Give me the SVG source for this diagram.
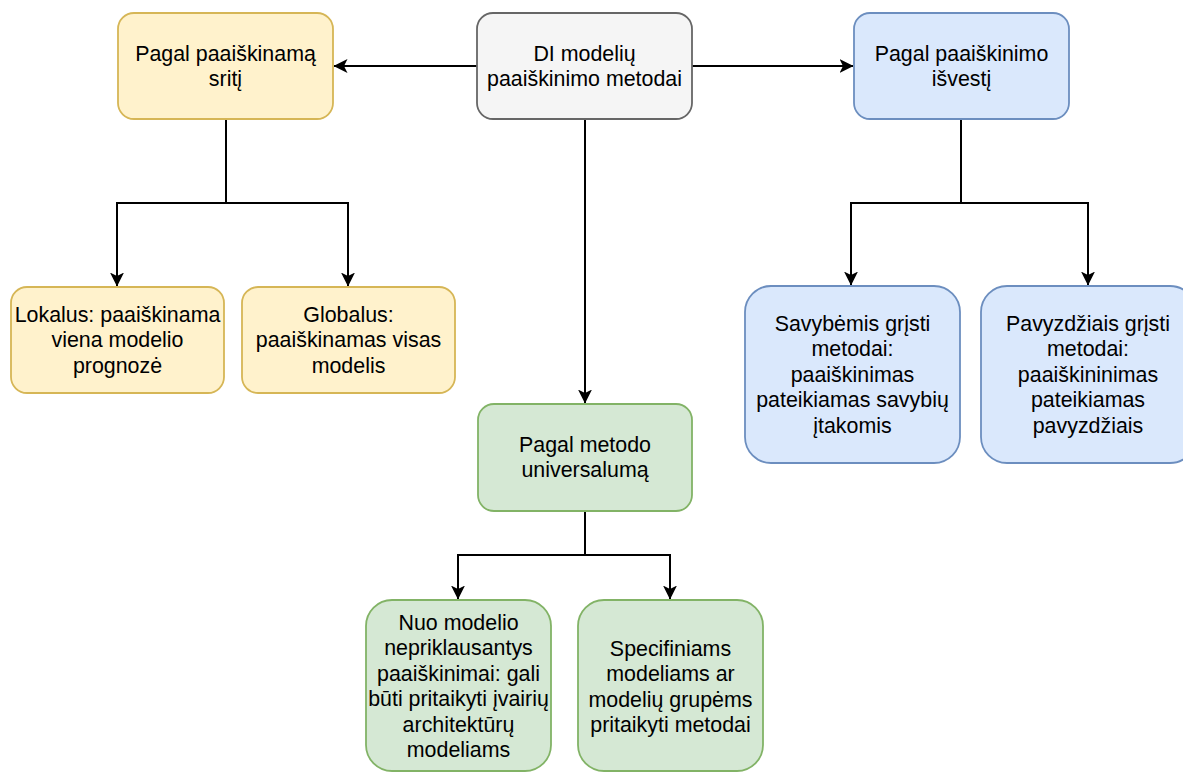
<svg xmlns="http://www.w3.org/2000/svg" width="1183" height="772" viewBox="0 0 1183 772">
<style>
text{font-family:"Liberation Sans",Arial,Helvetica,sans-serif;font-size:21.4px;fill:#000;text-anchor:middle}
.y{fill:#fff2cc;stroke:#d6b656;stroke-width:1.8}
.b{fill:#dae8fc;stroke:#6c8ebf;stroke-width:1.8}
.g{fill:#d5e8d4;stroke:#82b366;stroke-width:1.8}
.r{fill:#f5f5f5;stroke:#666666;stroke-width:1.8}
.e{fill:none;stroke:#000;stroke-width:2;marker-end:url(#a)}
.l{fill:none;stroke:#000;stroke-width:2}
</style>
<defs>
<marker id="a" viewBox="0 0 14 14" refX="13.5" refY="7" markerWidth="14" markerHeight="14" markerUnits="userSpaceOnUse" orient="auto">
<path d="M0,0 L14,7 L0,14 L3.5,7 Z" fill="#000"/>
</marker>
</defs>
<rect width="1183" height="772" fill="#fff"/>
<g id="connectors">
<path class="e" d="M477,66 H334"/>
<path class="e" d="M692,66 H853"/>
<path class="e" d="M585,119 V403"/>
<path class="l" d="M226,119 V203"/>
<path class="e" d="M226,203 H117 V286"/>
<path class="e" d="M226,203 H348 V286"/>
<path class="l" d="M961,119 V203"/>
<path class="e" d="M961,203 H851 V285"/>
<path class="e" d="M961,203 H1088 V285"/>
<path class="l" d="M585,511 V555"/>
<path class="e" d="M585,555 H458 V599"/>
<path class="e" d="M585,555 H670 V599"/>
</g>
<g id="root">
<rect class="r" x="477" y="13" width="215" height="106" rx="16"/>
<text x="584.5" y="61">DI modelių</text>
<text x="584.5" y="86.4">paaiškinimo metodai</text>
</g>
<g id="pagal-sriti">
<rect class="y" x="118" y="13" width="215" height="106" rx="16"/>
<text x="225.5" y="61">Pagal paaiškinamą</text>
<text x="225.5" y="86.4">sritį</text>
</g>
<g id="pagal-isvesti">
<rect class="b" x="854" y="13" width="215" height="106" rx="16"/>
<text x="961.5" y="61">Pagal paaiškinimo</text>
<text x="961.5" y="86.4">išvestį</text>
</g>
<g id="lokalus">
<rect class="y" x="11" y="287" width="213" height="106" rx="16"/>
<text x="117.5" y="322">Lokalus: paaiškinama</text>
<text x="117.5" y="347.4">viena modelio</text>
<text x="117.5" y="372.8">prognozė</text>
</g>
<g id="globalus">
<rect class="y" x="242" y="287" width="213" height="106" rx="16"/>
<text x="348.5" y="322">Globalus:</text>
<text x="348.5" y="347.4">paaiškinamas visas</text>
<text x="348.5" y="372.8">modelis</text>
</g>
<g id="savybemis">
<rect class="b" x="745" y="286" width="215" height="177" rx="26"/>
<text x="852.5" y="331">Savybėmis grįsti</text>
<text x="852.5" y="356.4">metodai:</text>
<text x="852.5" y="381.8">paaiškinimas</text>
<text x="852.5" y="407.2">pateikiamas savybių</text>
<text x="852.5" y="432.6">įtakomis</text>
</g>
<g id="pavyzdziais">
<rect class="b" x="981" y="286" width="215" height="177" rx="26"/>
<text x="1088" y="331">Pavyzdžiais grįsti</text>
<text x="1088" y="356.4">metodai:</text>
<text x="1088" y="381.8">paaiškininimas</text>
<text x="1088" y="407.2">pateikiamas</text>
<text x="1088" y="432.6">pavyzdžiais</text>
</g>
<g id="pagal-universaluma">
<rect class="g" x="478" y="404" width="214" height="107" rx="16"/>
<text x="585" y="452">Pagal metodo</text>
<text x="585" y="477.4">universalumą</text>
</g>
<g id="nuo-modelio">
<rect class="g" x="366" y="600" width="185" height="171" rx="26"/>
<text x="458.5" y="630">Nuo modelio</text>
<text x="458.5" y="655.4">nepriklausantys</text>
<text x="458.5" y="680.8">paaiškinimai: gali</text>
<text x="458.5" y="706.2">būti pritaikyti įvairių</text>
<text x="458.5" y="731.6">architektūrų</text>
<text x="458.5" y="757">modeliams</text>
</g>
<g id="specifiniams">
<rect class="g" x="578" y="600" width="185" height="171" rx="26"/>
<text x="670.5" y="656">Specifiniams</text>
<text x="670.5" y="681.4">modeliams ar</text>
<text x="670.5" y="706.8">modelių grupėms</text>
<text x="670.5" y="732.2">pritaikyti metodai</text>
</g>
</svg>
